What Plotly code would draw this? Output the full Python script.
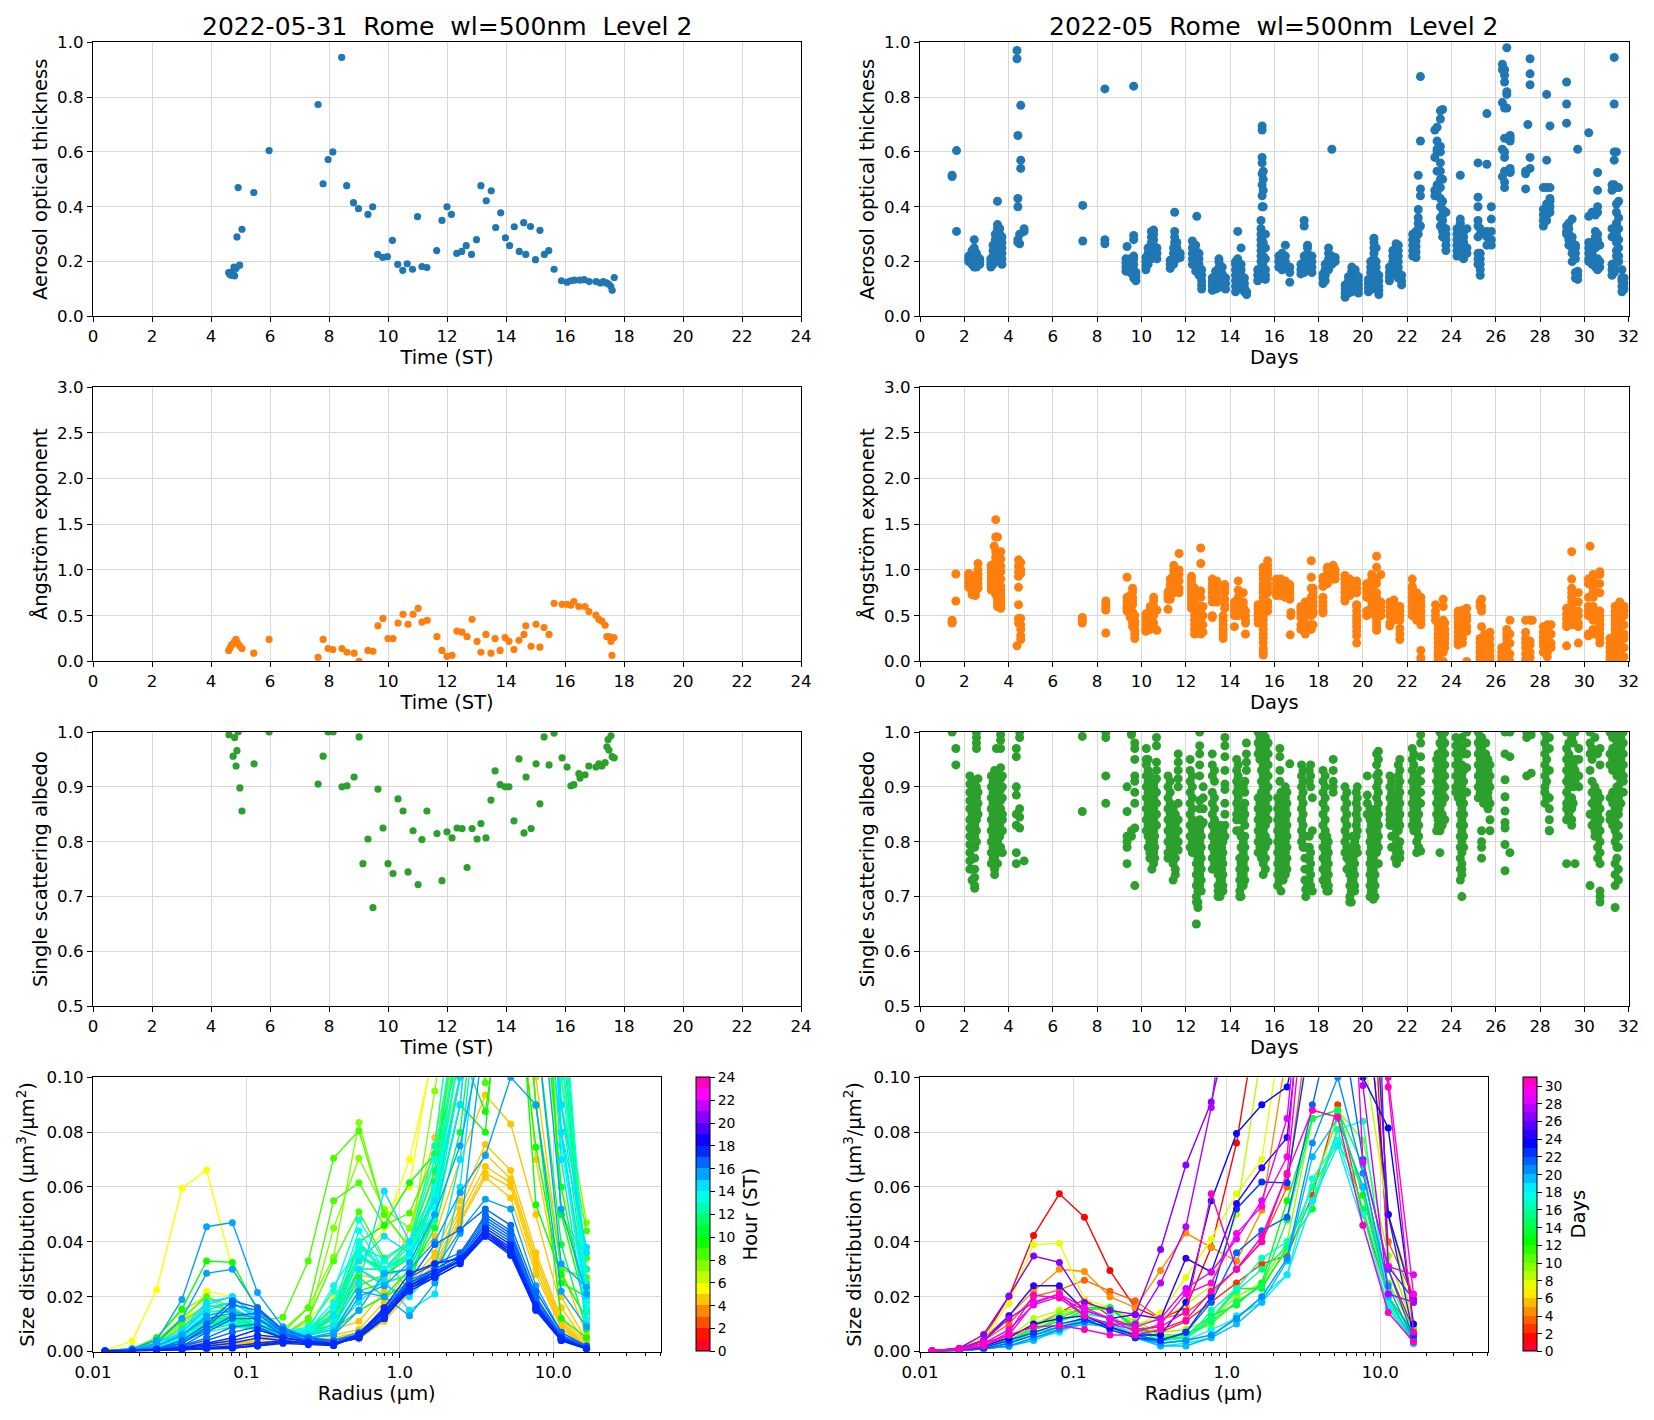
import plotly.graph_objects as go
from plotly.subplots import make_subplots

# one day, 2022-05-31
day_hours = [4.6,4.63,4.68,4.72,4.75,4.78,4.8,4.85,4.88,4.92,4.97,5.05,5.45,5.97,7.63,7.8,7.97,8.13,8.43,8.6,8.83,9.0,9.32,9.48,9.65,9.82,9.98,10.15,10.33,10.5,10.65,10.83,11.0,11.15,11.32,11.65,11.83,12.0,12.15,12.33,12.5,12.65,12.83,13.0,13.15,13.33,13.5,13.65,13.82,13.98,14.12,14.28,14.45,14.6,14.67,14.83,15.0,15.15,15.3,15.45,15.63,15.88,16.07,16.2,16.32,16.5,16.65,16.82,17.05,17.2,17.3,17.4,17.48,17.55,17.6,17.67]
day_aot = [.16,.155,.15,.16,.165,.18,.148,.175,.29,.47,.187,.318,.452,.605,.773,.484,.572,.60,.945,.477,.415,.393,.372,.40,.226,.215,.218,.277,.19,.168,.192,.172,.364,.182,.178,.24,.35,.40,.372,.23,.237,.258,.226,.28,.477,.422,.458,.324,.378,.287,.258,.327,.237,.342,.226,.328,.207,.314,.226,.24,.172,.13,.125,.13,.132,.132,.134,.127,.127,.122,.127,.122,.118,.11,.095,.142]

day_ae_hours = [4.6,4.65,4.7,4.75,4.8,4.85,4.9,4.97,5.05,5.45,5.97,7.63,7.8,7.97,8.13,8.44,8.61,8.85,9.02,9.32,9.49,9.66,9.83,10.0,10.17,10.34,10.51,10.68,10.85,11.02,11.15,11.33,11.66,11.83,12.0,12.17,12.34,12.51,12.68,12.85,13.02,13.15,13.32,13.49,13.63,13.8,13.97,14.1,14.27,14.44,14.61,14.67,14.85,15.02,15.15,15.29,15.46,15.63,15.9,16.07,16.2,16.3,16.47,16.68,16.81,17.05,17.15,17.25,17.36,17.42,17.49,17.56,17.59,17.66]
day_ae = [.12,.15,.18,.19,.22,.24,.2,.17,.14,.09,.24,.044,.24,.14,.13,.14,.10,.09,0.0,.12,.11,.39,.47,.25,.25,.42,.515,.405,.515,.58,.43,.45,.27,.12,.055,.065,.33,.32,.27,.46,.22,.10,.295,.09,.25,.12,.26,.22,.13,.23,.295,.39,.165,.405,.155,.37,.295,.635,.625,.625,.615,.655,.60,.60,.545,.505,.46,.44,.395,.27,.27,.22,.065,.26]

day_ssa_hours = [4.61,4.75,4.8,4.85,4.88,4.92,4.98,5.05,5.46,5.97,7.63,7.8,7.97,8.14,8.44,8.61,8.85,9.02,9.15,9.32,9.49,9.66,9.83,10.0,10.17,10.34,10.51,10.68,10.85,11.02,11.15,11.32,11.66,11.83,12.0,12.17,12.34,12.51,12.68,12.85,13.02,13.15,13.32,13.49,13.63,13.8,13.97,14.1,14.27,14.44,14.61,14.68,14.85,15.02,15.15,15.29,15.46,15.63,15.9,16.07,16.2,16.3,16.47,16.51,16.68,16.81,17.05,17.15,17.25,17.36,17.42,17.46,17.49,17.56,17.6,17.67]
day_ssa = [.995,.956,.99,.938,.966,1.0,.898,.856,.942,1.0,.905,.956,1.0,1.0,.90,.902,.918,.991,.76,.805,.68,.896,.825,.76,.742,.878,.856,.745,.82,.722,.804,.856,.815,.729,.818,.807,.825,.824,.753,.824,.805,.833,.807,.876,.929,.904,.90,.90,.838,.951,.816,.918,.824,.942,.869,.991,.94,.998,.953,.936,.902,.904,.924,.916,.922,.938,.936,.942,.938,.944,.973,.986,.967,.993,.955,.953]

# whole month, one column of readings per position along the day axis
month_aot = [
    (1.45,[.51,.515]),(1.65,[.605,.31]),(2.2,[.2,.21,.22]),(2.35,[.19,.2,.21,.22,.23,.24]),(2.45,[.18,.19,.2,.21,.22,.24,.25,.28]),(2.55,[.18,.19,.2,.21,.23]),(2.7,[.19,.2,.21]),
    (3.2,[.18,.19,.2,.21]),(3.3,[.19,.21,.22,.24,.26]),(3.4,[.2,.22,.24,.26,.28,.3]),(3.5,[.22,.24,.26,.28,.3,.32,.335,.42]),(3.6,[.2,.22,.24,.26,.28,.3,.32]),(3.7,[.19,.21,.23,.25,.27,.29]),
    (4.38,[.94,.97]),(4.42,[.66,.4,.43,.27,.28]),(4.5,[.265,.3]),(4.55,[.77,.57,.54]),(4.7,[.31,.32]),(7.35,[.405,.275]),(8.35,[.83,.28,.265]),
    (9.3,[.165,.18,.195,.21]),(9.35,[.255]),(9.5,[.16,.175,.19,.21]),(9.65,[.14,.15,.17,.19,.21,.22,.28,.295,.84]),(9.75,[.13,.145,.16]),
    (10.2,[.17,.185,.2,.215]),(10.3,[.19,.21,.23,.25]),(10.45,[.21,.23,.25,.27,.29,.31]),(10.55,[.22,.24,.26,.28,.3,.315]),(10.7,[.21,.23,.25]),
    (11.3,[.175,.19,.205]),(11.45,[.19,.21,.23,.25]),(11.5,[.27,.29,.31,.38]),(11.6,[.21,.23,.25,.27]),(11.75,[.215,.23]),
    (12.3,[.19,.21,.23,.25,.275]),(12.45,[.165,.18,.2,.22,.24,.26]),(12.5,[.365]),(12.6,[.15,.17,.19,.21,.23]),(12.72,[.1,.115,.13,.15,.17]),
    (13.2,[.095,.11,.125,.14]),(13.35,[.1,.115,.13,.15,.165]),(13.5,[.105,.12,.14,.16,.18,.2,.21]),(13.65,[.11,.125,.14,.155,.18]),(13.8,[.1,.12,.14]),
    (14.25,[.09,.11,.13,.15,.17,.19,.2]),(14.35,[.1,.12,.14,.16,.18,.2,.21,.31]),(14.5,[.11,.13,.15,.17,.19,.25]),(14.65,[.09,.105,.12,.14]),(14.75,[.08,.09]),
    (15.25,[.13,.15,.17]),(15.4,[.14,.16,.18,.2,.22,.24,.26,.28,.3,.32,.35]),(15.45,[.4,.44,.48,.52,.56,.58,.68,.695]),(15.5,[.14,.16,.18,.2,.22,.25,.27,.3,.4,.46,.5,.53]),(15.6,[.135,.15,.17,.21,.25,.3]),
    (16.2,[.18,.2,.22]),(16.35,[.17,.19,.21,.23]),(16.5,[.18,.2,.22,.26]),(16.7,[.125,.16,.18]),(17.2,[.155,.17,.19]),(17.35,[.16,.18,.2,.22,.33,.35]),(17.5,[.17,.19,.21,.23,.25,.26]),(17.7,[.16,.18,.2,.22]),
    (18.2,[.12,.14,.155]),(18.3,[.13,.15,.17,.19]),(18.45,[.17,.19,.21,.23,.25]),(18.6,[.19,.21,.22,.61]),(18.75,[.2,.215]),
    (19.2,[.07,.085,.1,.115]),(19.35,[.085,.1,.115,.13,.145]),(19.5,[.09,.105,.12,.135,.15,.165,.18]),(19.65,[.1,.115,.13,.145,.16,.17]),(19.8,[.085,.1,.115,.13,.145]),
    (20.25,[.09,.105,.12,.135]),(20.35,[.1,.12,.14,.16,.18,.2]),(20.5,[.11,.13,.15,.17,.19,.21,.23,.25,.27,.285]),(20.6,[.1,.12,.14,.16,.18,.2,.25]),(20.72,[.08,.095,.11,.13,.15]),
    (21.2,[.13,.145,.16,.18]),(21.35,[.16,.18,.2,.22,.24]),(21.5,[.15,.17,.19,.21,.23,.25,.265]),(21.6,[.14,.16,.18,.2,.22,.24,.26]),(21.75,[.115,.13,.15]),
    (22.25,[.22,.24,.26,.28,.3]),(22.4,[.215,.235,.255,.275,.295,.31]),(22.5,[.3,.32,.34,.36,.39,.515]),(22.6,[.44,.465,.875,.64,.33]),
    (23.25,[.68,.58,.46,.44]),(23.35,[.45,.48,.53,.6,.64,.61,.69]),(23.5,[.36,.4,.43,.47,.5,.53,.56,.6,.62,.33,.72,.75]),(23.6,[.29,.31,.33,.35,.37,.39,.42,.5,.755]),(23.75,[.24,.26,.28,.3,.32,.38]),
    (24.25,[.22,.24,.26,.28,.3,.32]),(24.4,[.22,.24,.26,.28,.3,.32,.34,.355,.515]),(24.55,[.21,.23,.25,.27,.29,.31]),(24.7,[.23,.25,.32]),
    (25.2,[.4,.435,.56,.35,.33,.29,.23,.21,.19]),(25.3,[.15,.17,.19,.21,.23,.3,.32]),(25.6,[.74,.555,.31,.26,.29]),(25.8,[.4,.355,.31,.26,.28]),
    (26.3,[.9,.92,.78,.51,.61]),(26.4,[.9,.88,.6,.58,.53,.49,.47,.76,.65,.855]),(26.5,[.98,.82,.81,.76]),(26.65,[.65,.64,.66,.54,.525,.53]),
    (27.35,[.52,.465,.53]),(27.45,[.7]),(27.55,[.94,.885,.845,.58,.54]),(28.15,[.33,.35,.37,.39,.47]),(28.3,[.35,.37,.39,.41,.81,.57,.47]),(28.45,[.38,.4,.42,.43,.47,.695]),
    (29.2,[.855,.775,.705,.33,.3,.31]),(29.3,[.26,.28,.3,.32,.34]),(29.45,[.25,.27,.29,.355,.23,.2]),(29.6,[.21,.23,.25,.26,.16,.14]),(29.7,[.61,.135,.15,.165]),
    (30.2,[.67,.365,.21,.23,.25,.27,.2]),(30.35,[.38,.19,.21,.23,.25,.27]),(30.5,[.18,.2,.25,.27,.29,.31,.37]),(30.6,[.17,.19,.21,.26,.28,.3,.4,.38,.46,.525]),(30.7,[.18,.2,.26]),
    (31.25,[.15,.17,.19,.32,.29,.46,.48]),(31.35,[.945,.775,.6,.57,.47,.48,.16,.18]),(31.45,[.2,.22,.24,.27,.3,.34,.38,.41,.47,.6]),(31.55,[.2,.22,.25,.28,.32,.36,.42,.47]),(31.7,[.09,.11,.13,.17,.14]),(31.8,[.1,.12,.14]),
]

month_ae = [
    (1.45,[.43,.42,.45]),(1.62,[.66,.955]),(2.2,[.81,.84,.87,.9,.93,.96]),(2.35,[.73,.76,.79,.82,.85,.88,.91,.94]),(2.5,[.72,.75,.78,.81,.84,.87,.9,.93]),(2.62,[.8,.85,.9,.95,1.0,1.07]),
    (3.22,[.78,.82,.86,.9,.94,.98,1.02,1.05]),(3.35,[1.26]),(3.42,[.73,.76,.8,.84,.88,.92,.96,1.0,1.05,1.1,1.14,1.2,1.36,1.55]),(3.5,[.6,.64,.68,.72,.76,.8,.84,.88,.92,.96,1.0,1.04,1.08,1.12,1.2,1.36]),(3.65,[.58,.62,.66,.7,.74,.78,.82,.9,.98,1.04,1.12,1.2]),
    (4.38,[.17]),(4.45,[1.11,1.04,.98,.93,.81,.62,.47,.42]),(4.55,[1.08,1.0,.96,.47,.4,.35,.28,.24]),(7.33,[.42,.45,.48]),(8.39,[.31,.56,.59,.63,.66]),
    (9.35,[.55,.58,.6,.65,.7,.92]),(9.5,[.48,.5,.6,.64,.68,.72]),(9.6,[.38,.42,.46,.5,.54,.62,.66,.7,.76,.8]),(9.7,[.25,.3,.34,.4,.44,.5]),
    (10.2,[.33,.36,.4,.44,.48,.52]),(10.4,[.35,.38,.42,.46,.5,.56,.6]),(10.55,[.38,.42,.5,.56,.6,.66,.7]),(10.7,[.34,.56]),
    (11.2,[.57,.68,.72,.76]),(11.3,[.68,.72,.76,.8,.84,.9]),(11.46,[.75,.8,.85,.9,.95,1.0,1.05]),(11.7,[.75,.8,.88,.95,1.0,1.18]),
    (12.26,[.58,.62,.66,.7,.74,.78,.82,.86,.9,.93]),(12.4,[.3,.35,.4,.45,.5,.55,.6,.65,.7,.75,.8]),(12.68,[.3,.34,.38,.45,.5,.55,.6,.7,.77,1.07,1.24]),(12.78,[.32,.4,.5,.6]),
    (13.2,[.48,.5,.65,.7,.75,.8,.85,.9]),(13.4,[.65,.7,.75,.8,.85,.88]),(13.69,[.25,.3,.35,.4,.45,.5]),(13.76,[.58,.62,.68,.75,.8,.84]),
    (14.2,[.38,.5,.55,.6,.65]),(14.37,[.5,.55,.6,.65,.7,.78,.88]),(14.6,[.5,.55,.6,.65,.75]),(14.7,[.3,.42,.45,.5,.55]),
    (15.27,[.42,.46,.5,.54,.58,.62]),(15.5,[.07,.1,.14,.2,.25,.3,.35,.4,.45,.5,.55,.6,.65,.7,.75,.8,.85,.9,.95,1.0,1.03]),(15.7,[.55,.6,.65,.75,.8,.85,.9,.95,1.0,1.05,1.1]),
    (16.1,[.72,.76,.8,.85,.9]),(16.3,[.72,.76,.8,.85,.9]),(16.5,[.7,.74,.78,.82,.88]),(16.7,[.68,.72,.76,.8,.84]),(16.75,[.5,.535]),(16.72,[.29]),
    (17.2,[.35,.4,.48,.52,.56,.6]),(17.4,[.3,.36,.42,.5,.55,.6,.65]),(17.67,[.35,.4,.5,.55,.6,.65,.7,.8,.92,1.1]),(17.75,[.4,.52,.55,.6,.65,.7,.75,.8]),
    (18.2,[.53,.56,.6,.65,.7,.82,.88,.92]),(18.4,[.85,.9,.95,1.0,1.03]),(18.66,[.9,.95,1.0,1.03,1.05]),(18.75,[.9,.95,1.0]),
    (19.19,[.66,.7,.75,.8,.85,.9,.94]),(19.41,[.72,.76,.8,.85,.9]),(19.72,[.2,.28,.33,.38,.42,.46,.5,.55,.6,.62,.75,.8,.85,.88]),
    (20.17,[.5,.55,.7,.75,.8,.85]),(20.4,[.52,.56,.6,.65,.7,.75,.8,.85,.9,.95]),(20.62,[.34,.38,.42,.46,.5,.55,.6,.65,.7,.75,.85,.9,1.03,1.15]),(20.81,[.5,.55,.6,.65,.95]),
    (21.22,[.39,.42,.5,.55,.6,.65]),(21.4,[.45,.5,.55,.6,.65,.67]),(21.67,[.24,.3,.36,.45,.5,.55,.6]),
    (22.23,[.9,.82,.8,.75,.7,.65,.6,.55,.5]),(22.43,[.75,.7,.65,.6,.55,.5,.45]),(22.62,[0.0,.04,.12,.4,.45,.5,.55,.6,.65,.7]),
    (23.28,[.45,.5,.55,.62]),(23.4,[.02,.06,.1,.15,.2,.25,.3,.35,.4]),(23.63,[0.0,.1,.15,.2,.25,.3,.35,.4,.45,.6,.68]),(23.7,[.15,.2,.25,.3,.35,.42]),
    (24.3,[.18,.22,.27,.32,.37,.42,.47,.5,.55]),(24.5,[.2,.25,.3,.37,.42,.5,.56]),(24.69,[0.0,.33,.38,.45,.5,.58]),
    (25.29,[0.0,.05,.1,.15,.2,.25,.6,.65]),(25.36,[.38,.55,.6,.68]),(25.5,[.02,.08,.12,.18,.25,.3]),(25.74,[.02,.06,.12,.18,.25,.32]),
    (26.27,[.02,.06,.1,.15]),(26.5,[0.0,.05,.1,.15,.2,.25,.3,.35]),(26.64,[0.0,.08,.2,.3,.45]),
    (27.35,[.02,.08,.15,.2,.25,.32,.45]),(27.55,[.04,.1,.18,.22,.45]),(27.65,[.45]),
    (28.15,[.1,.17,.22,.27,.32,.38]),(28.33,[.05,.1,.15,.2,.25,.3,.35,.4]),(28.5,[.15,.2,.3,.4]),
    (29.2,[.17,.38,.42,.47,.52,.58]),(29.43,[.4,.45,.5,.55,.6,.65,.7,.75,.8,.9,1.2]),(29.73,[.2,.38,.42,.5,.55,.65,.75]),
    (30.18,[.28,.3,.5,.55,.6,.7,.85,.9]),(30.26,[1.26]),(30.4,[.3,.35,.45,.5,.55,.6,.7,.75,.8,.85,.9,.95]),(30.7,[.2,.25,.3,.35,.4,.45,.5,.55,.75,.85,.95,.98]),
    (31.16,[.02,.06,.1,.15,.2,.25]),(31.39,[.03,.07,.12,.18,.25,.3,.35,.4,.45,.5,.55,.6]),(31.6,[.03,.08,.13,.18,.25,.3,.35,.4,.45,.5,.55,.6,.65]),(31.8,[.05,.15,.25,.3,.4,.5,.55,.6]),
]

month_ssa = [
    (1.45,[1.0]),(1.62,[.97,.94]),(2.25,[.92,.905,.89,.875,.86,.84,.825,.81,.795,.78,.765,.75]),(2.47,[.89,.87,.85,.83,.81,.79,.77,.75,.735,.72,.715]),(2.55,[1.0,.99,.98,.97]),(2.62,[.915,.89,.87,.85]),
    (3.22,[.92,.9,.88,.86,.84,.82,.8,.78,.76]),(3.37,[.93,.91,.89,.87,.85,.83,.81,.79,.77,.75,.74]),(3.45,[.97]),(3.64,[.935,.915,.895,.875,.86,.84,.79,.97,.995,.985]),(3.72,[.84,.82,.85,.88,.9,.92,.78]),
    (4.35,[.97,.955,.9,.885,.85,.83,.78,.76]),(4.5,[1.0,.99,.86,.845,.825]),(4.7,[.765]),(7.33,[.992,.855]),(8.39,[1.0,.99,.92,.87]),
    (9.35,[.9,.855,.81,.8,.79,.76]),(9.55,[1.0,.995,.81,.82]),(9.7,[.98,.97,.95,.92,.91,.89,.87,.825,.72]),
    (10.22,[.97,.95,.94,.92,.9,.88,.86,.84,.82]),(10.38,[.92,.9,.88,.86,.84,.82,.8,.78,.77]),(10.55,[.9,.88,.86,.84,.82,.8,.78,.76]),(10.68,[.99,.975,.945,.93,.915,.89,.87,.85,.83]),
    (11.2,[.92,.9,.88,.86,.84,.82,.8,.78,.77]),(11.43,[.86,.84,.82,.8,.78,.76,.73]),(11.66,[.96,.945,.93,.915,.9,.87,.84,.82,.8,.785]),
    (12.2,[.95,.93,.91,.89,.87,.85,.83,.81,.79]),(12.48,[.82,.8,.78,.76,.74,.72,.70,.69,.65]),(12.63,[1.0,.975,.96,.94,.92,.875,.86,.84,.82,.8,.78,.76,.74,.72]),(12.79,[.9,.88,.86,.835]),
    (13.2,[.96,.94,.92,.89,.87,.85,.83,.81,.79,.77,.75]),(13.46,[.8,.78,.76,.74,.72,.7,.71]),(13.68,[.82,.8,.78,.76,.74,.72,.71]),(13.77,[.99,.975,.955,.93,.905,.895,.87,.85,.83,.81]),
    (14.3,[.95,.93,.91,.89,.87,.85,.84,.82]),(14.44,[.84,.82,.77,.75,.73,.71,.7]),(14.67,[.91,.89,.87,.85,.83,.81,.79,.77,.75,.73]),(14.74,[.98,.96,.945,.93]),
    (15.27,[1.0,.98,.96,.88,.86,.84,.82,.8,.78]),(15.5,[1.0,.98,.96,.94,.92,.9,.88,.86,.84,.82,.8,.78,.76,.74]),(15.72,[.98,.96,.94,.92,.9,.88,.86,.84,.8]),
    (16.15,[.88,.86,.84,.82,.8,.78,.76,.74,.72]),(16.25,[.97,.955,.93,.91]),(16.3,[.89,.87,.85,.83,.81,.79,.77,.75,.73,.71]),(16.5,[.9,.88,.86,.84,.82,.8,.78,.76,.74]),(16.7,[.942]),
    (17.23,[.94,.92,.9,.88,.86,.84,.82,.8]),(17.38,[.81,.79,.77,.75,.73]),(17.42,[.713,.70]),(17.64,[.94,.92,.9,.78,.76,.74,.72]),(17.72,[.88,.82,.71]),
    (18.2,[.93,.91,.89,.87,.85,.83,.81,.79,.77,.75,.73]),(18.44,[.8,.78,.76,.74,.72,.71]),(18.66,[.95,.93,.91,.9,.89]),
    (19.19,[.9,.88,.86,.84,.82,.8,.78]),(19.41,[.78,.76,.74,.72,.7,.69]),(19.56,[.81,.79,.77,.75,.73,.71]),(19.75,[.9,.88,.86,.84,.82,.78]),
    (20.2,[.92,.885,.87,.85]),(20.32,[.86,.84,.82,.8,.78,.76,.74,.72,.7]),(20.47,[.85,.83,.81,.79,.77,.75,.73,.71,.695]),(20.7,[.965,.95,.925,.91,.89,.87,.85,.83,.81,.79,.76]),
    (21.22,[.92,.9,.88,.86,.84,.83,.85]),(21.45,[.87,.85,.83,.81,.79,.77]),(21.67,[.95,.93,.91,.89,.87,.85,.83,.8,.78,.77]),
    (22.23,[.97,.95,.93,.91,.89,.87,.85,.83]),(22.43,[.92,.9,.88,.86,.84,.82,.8,.78]),(22.61,[.995,.98,.955,.93,.91,.89,.87,.783]),
    (23.33,[.95,.93,.91,.89,.87,.85,.82]),(23.48,[1.0,.98,.96,.94,.92,.9,.88,.86,.84,.82,.78]),(23.7,[1.0,.98,.96,.94,.92,.9,.88,.84]),
    (24.2,[.99,.975,.96,.94,.92,.9,.89]),(24.47,[.99,.97,.94,.92,.9,.88,.86,.84,.82,.8,.78,.76,.75,.74,.7]),(24.69,[1.0,.98,.96,.935,.89]),
    (25.21,[1.0,.98,.96,.94,.92,.9,.88]),(25.36,[.99,.97,.95,.82,.8,.79,.77]),(25.55,[.98,.96,.93,.9,.88,.89]),(25.74,[.94,.92,.9,.87,.84,.82]),
    (26.42,[1.0,.96,.913,.882,.856,.835,.825,.795,.747]),(26.64,[1.0,.955,.78]),(27.4,[1.0,.99,.92]),(27.6,[.995,.925]),
    (28.22,[1.0,.98,.96,.94,.92,.9,.89,.87]),(28.42,[.99,.97,.93,.88,.86,.84,.82,.82]),
    (29.2,[1.0,.97,.95,.93,.91,.89,.87,.86,.84,.76]),(29.43,[.99,.95,.93,.91,.88,.86,.84,.83]),(29.58,[1.0,.95,.93,.91,.76]),(29.75,[.97,.95,.92,.9]),
    (30.26,[1.0,.98,.96,.93,.85,.72]),(30.48,[.99,.9,.88,.86,.84,.82,.81]),(30.71,[.97,.94,.88,.86,.84,.82,.8,.78,.76,.71,.7,.69]),
    (31.16,[1.0,.96,.94,.88,.85,.84]),(31.39,[1.0,.97,.95,.93,.89,.86,.84,.82,.8,.76,.74,.72,.68]),(31.54,[.99,.96,.94,.92,.9,.88,.86,.85,.83,.81,.79,.75,.73]),(31.76,[1.0,.98,.96,.94,.92,.91,.89]),
]

# second pass over the same month, the readings between those above
month_ssa_more = [
    (2.35,[.91,.89,.87,.85,.83,.81,.79,.77,.75,.73]),(2.55,[.9,.88,.86,.84,.82,.8]),(3.3,[.91,.89,.87,.85,.83,.81,.79,.77]),(3.5,[.92,.9,.88,.86,.84,.82,.8,.78,.76]),(3.6,[.9,.88,.86,.85,.83,.81]),
    (10.3,[.95,.93,.91,.89,.87,.85,.83,.81,.79]),(10.47,[.91,.89,.87,.85,.83,.81,.79,.77,.75]),(10.6,[.91,.89,.87,.85,.83,.81,.79,.77]),
    (11.3,[.91,.89,.87,.85,.83,.81,.79,.77]),(11.53,[.85,.83,.81,.79,.77,.75,.74]),
    (12.3,[.92,.9,.88,.86,.84,.82,.8,.78]),(12.55,[.83,.81,.79,.77,.75,.73,.71,.69,.68]),(12.7,[.83,.81,.79,.77,.75,.73,.71]),
    (13.3,[.93,.91,.88,.86,.84,.82,.8,.78,.76]),(13.55,[.83,.81,.79,.77,.75,.73,.71,.7]),(13.62,[.81,.79,.77,.75,.73,.72]),
    (14.37,[.94,.92,.9,.88,.86]),(14.5,[.81,.79,.76,.74,.72,.7]),(14.6,[.9,.86,.84,.8,.78,.76,.74,.72]),
    (15.35,[.99,.97,.95,.87,.85,.83,.81,.79]),(15.42,[.97,.95,.93,.91,.89,.87,.85,.83,.81,.79,.77]),(15.6,[.99,.97,.95,.93,.91,.89,.87,.85,.83,.81,.79,.77,.75]),
    (16.22,[.87,.85,.83,.81,.79,.77,.75,.73]),(16.4,[.89,.87,.85,.83,.81,.79,.77,.75,.73]),(16.57,[.89,.87,.85,.83,.81,.79,.77,.75]),
    (17.3,[.93,.91,.89,.87,.85,.83,.81,.79]),(17.5,[.79,.77,.75,.73,.72]),(17.58,[.93,.91,.81,.79,.77,.75,.73]),
    (18.3,[.92,.9,.88,.86,.84,.82,.8,.78,.76,.74,.72]),(18.37,[.81,.79,.77,.75,.73,.71]),
    (19.28,[.89,.87,.85,.83,.81,.79,.77,.75]),(19.48,[.79,.77,.75,.73,.71,.69]),(19.63,[.8,.78,.76,.74,.72,.71]),(19.7,[.89,.87,.85,.83,.81,.79]),
    (20.38,[.85,.83,.81,.79,.77,.75,.73,.71,.7]),(20.55,[.84,.82,.8,.78,.76,.74,.72,.7]),(20.62,[.96,.94,.92,.9,.88,.86,.84,.82,.8,.78]),
    (21.3,[.91,.89,.87,.85,.83,.81,.79]),(21.52,[.88,.86,.84,.82,.8,.78,.76]),(21.6,[.94,.92,.9,.88,.86,.84,.82,.79,.77]),
    (22.3,[.96,.94,.92,.9,.88,.86,.84,.82]),(22.52,[.91,.89,.87,.85,.83,.81,.79]),
    (23.4,[.96,.94,.92,.9,.88,.86,.84,.83]),(23.58,[.99,.97,.95,.93,.91,.89,.87,.85,.83]),
    (24.3,[.98,.97,.95,.93,.91,.88]),(24.4,[.89,.87,.85,.83,.81,.79,.77,.75,.73]),(24.55,[.96,.93,.91,.89,.87,.85,.83,.81,.79]),
    (25.3,[.99,.97,.95,.93,.91,.89]),(25.45,[.96,.94,.92,.9,.87]),(25.65,[.95,.93,.91,.89,.88,.86]),
    (28.3,[.99,.97,.95,.93,.91,.88]),(29.3,[.98,.96,.94,.92,.9,.88,.86,.85]),(29.5,[.98,.94,.92,.9,.87]),
    (30.35,[.97,.95,.91,.89,.87,.85,.83]),(30.6,[.96,.89,.87,.85,.83,.81,.79,.77]),(31.28,[.99,.97,.95,.93,.89,.87,.85,.83]),(31.47,[.98,.96,.94,.92,.9,.88,.87,.85,.83,.81,.79,.77]),(31.65,[.99,.97,.95,.93,.91,.89,.87]),
]

radius = [.012,.018,.026,.038,.055,.081,.118,.173,.253,.37,.541,.791,1.156,1.69,2.47,3.61,5.28,7.71,11.27,16.47]

# (hour of the retrieval, size distribution)
day_sizes = [
    (4.6,[.0002,.0005,.0008,.001,.0012,.0018,.0022,.0028,.003,.0035,.0045,.011,.021,.03,.047,.0635,.056,.028,.0085,.0015]),
    (4.65,[.0002,.0004,.0007,.001,.0014,.0019,.0025,.003,.0032,.0038,.005,.012,.022,.031,.048,.065,.06,.03,.009,.002]),
    (4.7,[.0002,.0005,.0009,.0012,.0015,.002,.0028,.0032,.0035,.004,.0055,.013,.023,.032,.05,.0675,.0615,.032,.01,.002]),
    (4.75,[.0002,.0005,.0009,.0013,.0016,.0022,.003,.0035,.004,.0045,.006,.014,.024,.034,.052,.072,.063,.034,.011,.002]),
    (4.8,[.0002,.0006,.001,.0014,.0018,.0025,.0032,.0038,.0045,.005,.007,.015,.025,.036,.055,.0755,.066,.036,.012,.003]),
    (4.85,[.0003,.0006,.0012,.0016,.002,.003,.0035,.004,.005,.006,.008,.018,.03,.042,.07,.0935,.083,.05,.016,.003]),
    (4.92,[.0003,.0007,.0014,.002,.0025,.003,.004,.005,.006,.008,.011,.022,.045,.078,.12,.16,.17,.07,.02,.004]),
    (4.97,[.0003,.0008,.0015,.0022,.003,.0035,.0045,.006,.008,.012,.028,.026,.04,.065,.1,.15,.2,.1,.03,.006]),
    (5.45,[.0005,.0038,.0225,.0595,.0662,.03,.016,.006,.012,.02,.03,.045,.07,.11,.16,.22,.25,.2,.06,.03]),
    (5.97,[.0003,.001,.003,.01,.022,.02,.012,.006,.007,.015,.03,.051,.06,.11,.17,.2,.22,.17,.05,.02]),
    (7.63,[.0003,.001,.005,.015,.02,.014,.01,.006,.011,.045,.0705,.052,.045,.07,.12,.2,.25,.2,.05,.03]),
    (7.8,[.0003,.001,.004,.01,.017,.015,.01,.008,.016,.0345,.0835,.05,.038,.095,.16,.22,.3,.25,.1,.047]),
    (8.43,[.0003,.001,.004,.012,.02,.016,.011,.0125,.033,.0705,.0805,.05,.038,.06,.12,.2,.3,.28,.09,.044]),
    (8.6,[.0003,.001,.004,.011,.017,.015,.01,.007,.016,.055,.0615,.046,.0505,.072,.13,.25,.3,.2,.05,.034]),
    (8.83,[.0002,.0008,.003,.009,.015,.014,.009,.006,.012,.033,.051,.034,.022,.06,.14,.098,.2,.0895,.03,.027]),
    (9.0,[.0002,.0008,.002,.006,.012,.012,.008,.005,.008,.012,.04,.046,.0615,.072,.11,.0875,.15,.0745,.025,.02]),
    (9.48,[.0002,.0008,.005,.0155,.033,.0325,.015,.007,.006,.008,.015,.02,.025,.05,.1,.18,.2,.09,.012,.005]),
    (9.82,[.0002,.0006,.002,.006,.011,.012,.009,.006,.006,.01,.027,.02,.03,.05,.09,.08,.18,.0535,.028,.012]),
    (10.15,[.0002,.0005,.002,.005,.01,.011,.008,.006,.006,.008,.022,.025,.028,.045,.08,.16,.2,.12,.039,.008]),
    (10.33,[.0002,.0006,.002,.006,.012,.013,.009,.006,.007,.01,.024,.028,.034,.058,.12,.24,.3,.16,.06,.014]),
    (10.65,[.0002,.0006,.002,.006,.012,.014,.01,.006,.007,.012,.03,.03,.035,.055,.1,.2,.3,.2,.05,.015]),
    (11.0,[.0002,.0006,.002,.006,.011,.013,.01,.007,.008,.016,.038,.034,.04,.066,.13,.26,.34,.24,.09,.022]),
    (11.15,[.0002,.0005,.002,.005,.009,.011,.009,.006,.007,.014,.035,.03,.04,.06,.11,.22,.32,.22,.08,.02]),
    (11.65,[.0002,.0005,.002,.005,.008,.01,.008,.006,.006,.012,.04,.028,.03,.05,.1,.2,.3,.25,.11,.025]),
    (11.83,[.0002,.0006,.002,.006,.01,.012,.009,.006,.007,.016,.034,.03,.036,.062,.12,.23,.32,.27,.12,.018]),
    (12.15,[.0002,.0005,.002,.004,.008,.01,.008,.006,.006,.01,.03,.025,.028,.048,.09,.18,.28,.22,.12,.03]),
    (12.5,[.0002,.0005,.002,.005,.009,.012,.009,.007,.007,.013,.03,.03,.04,.075,.15,.26,.34,.3,.14,.014]),
    (12.65,[.0002,.0005,.0015,.004,.007,.009,.008,.006,.006,.014,.036,.028,.035,.055,.11,.2,.3,.24,.13,.02]),
    (13.0,[.0002,.0005,.0015,.005,.01,.013,.01,.007,.007,.016,.044,.03,.036,.058,.1,.19,.29,.26,.11,.016]),
    (13.15,[.0002,.0005,.0015,.004,.008,.011,.009,.007,.008,.018,.04,.03,.038,.06,.12,.22,.32,.26,.14,.022]),
    (13.5,[.0002,.0006,.002,.005,.012,.014,.01,.007,.009,.022,.048,.033,.04,.07,.13,.24,.34,.28,.08,.012]),
    (13.65,[.0002,.0006,.002,.006,.013,.016,.011,.008,.008,.024,.038,.03,.034,.052,.1,.21,.3,.27,.1,.024]),
    (13.82,[.0002,.0006,.002,.006,.014,.016,.011,.008,.007,.012,.035,.028,.03,.057,.11,.2,.3,.25,.075,.018]),
    (14.12,[.0002,.0006,.003,.007,.017,.02,.013,.008,.006,.013,.033,.042,.036,.05,.09,.19,.28,.22,.08,.02]),
    (14.28,[.0002,.0006,.003,.008,.018,.02,.012,.008,.006,.009,.025,.0585,.04,.055,.1,.18,.26,.2,.07,.01]),
    (14.45,[.0002,.0006,.002,.007,.015,.018,.012,.008,.006,.008,.03,.024,.02,.03,.07,.16,.24,.18,.09,.036]),
    (14.6,[.0002,.0006,.002,.007,.016,.018,.012,.008,.006,.008,.018,.026,.015,.021,.06,.15,.22,.16,.08,.038]),
    (15.0,[.0002,.0005,.002,.006,.013,.015,.012,.007,.005,.007,.022,.02,.013,.025,.043,.12,.2,.15,.052,.021]),
    (15.3,[.0002,.0005,.003,.012,.0285,.03,.016,.007,.005,.006,.02,.024,.0325,.05,.075,.12,.18,.12,.032,.0235]),
    (15.63,[.0003,.001,.004,.019,.0455,.047,.0215,.009,.005,.006,.015,.0285,.03,.04,.058,.0715,.1,.09,.022,.009]),
    (15.88,[.0002,.0005,.002,.006,.012,.014,.012,.007,.004,.004,.007,.015,.025,.03,.044,.0555,.052,.024,.007,.002]),
    (16.07,[.0002,.0005,.001,.004,.01,.0185,.016,.008,.005,.004,.006,.016,.026,.039,.0445,.052,.046,.022,.007,.002]),
    (16.2,[.0002,.0005,.001,.003,.009,.017,.015,.008,.005,.003,.006,.015,.025,.03,.035,.05,.044,.02,.006,.002]),
    (16.32,[.0002,.0004,.001,.003,.008,.013,.014,.007,.004,.003,.006,.014,.027,.032,.036,.049,.043,.019,.006,.0015]),
    (16.5,[.0002,.0004,.0009,.002,.007,.012,.012,.006,.004,.003,.006,.014,.026,.03,.035,.048,.042,.018,.0055,.0015]),
    (16.65,[.0002,.0004,.0008,.002,.005,.009,.01,.006,.004,.003,.005,.013,.025,.029,.034,.047,.041,.018,.005,.0012]),
    (16.82,[.0002,.0003,.0008,.002,.004,.007,.009,.005,.004,.003,.005,.013,.024,.029,.034,.046,.04,.017,.005,.0012]),
    (17.05,[.0001,.0003,.0007,.0015,.003,.005,.008,.005,.0035,.003,.005,.012,.024,.028,.033,.045,.039,.017,.005,.0012]),
    (17.2,[.0001,.0003,.0006,.0012,.0025,.004,.006,.005,.0035,.003,.005,.012,.023,.028,.033,.044,.038,.016,.0045,.001]),
    (17.3,[.0001,.0002,.0005,.001,.002,.003,.005,.004,.003,.0028,.005,.012,.023,.027,.032,.043,.037,.016,.0045,.001]),
    (17.4,[.0001,.0002,.0004,.0008,.0015,.002,.003,.004,.003,.0025,.0055,.013,.022,.027,.032,.042,.036,.016,.0045,.001]),
    (17.48,[.0001,.0002,.0004,.0007,.0012,.0015,.002,.0035,.003,.0022,.006,.014,.023,.028,.033,.043,.036,.015,.004,.001]),
    (17.55,[.0001,.0002,.0004,.0007,.001,.0012,.002,.003,.0025,.0022,.006,.015,.024,.029,.033,.042,.035,.015,.004,.001]),
    (17.67,[.0001,.0002,.0003,.0006,.001,.0012,.0025,.0035,.003,.0025,.0065,.016,.0285,.032,.034,.044,.037,.016,.0045,.0012]),
]

# (day of month, size distribution)
month_sizes = [
    (1,[.0003,.001,.005,.02,.0423,.0575,.049,.0295,.016,.012,.016,.038,.076,.14,.2,.25,.3,.2,.03,.008]),
    (2,[.0002,.0006,.002,.004,.009,.014,.019,.013,.008,.007,.011,.018,.025,.032,.035,.057,.09,.05,.02,.007]),
    (3,[.0002,.0008,.004,.01,.02,.0225,.026,.022,.0185,.012,.014,.021,.03,.04,.06,.13,.18,.15,.04,.02]),
    (4,[.0003,.001,.005,.013,.022,.03,.0292,.02,.016,.0295,.0432,.038,.033,.0515,.11,.2,.25,.2,.05,.02]),
    (7,[.0003,.001,.005,.0175,.039,.0395,.019,.016,.009,.014,.027,.041,.0575,.07,.13,.25,.3,.2,.05,.01]),
    (8,[.0002,.0006,.002,.005,.012,.015,.014,.012,.01,.012,.017,.024,.05,.11,.16,.2,.22,.11,.05,.01]),
    (9,[.0002,.0006,.002,.005,.01,.014,.017,.016,.011,.007,.008,.012,.02,.025,.04,.085,.088,.077,.035,.009]),
    (10,[.0002,.0005,.002,.004,.009,.013,.016,.015,.01,.006,.006,.01,.018,.024,.037,.06,.085,.06,.025,.008]),
    (12,[.0002,.0005,.0015,.004,.008,.012,.016,.016,.009,.005,.006,.013,.017,.025,.055,.085,.088,.057,.02,.007]),
    (13,[.0002,.0005,.0015,.004,.008,.011,.015,.016,.008,.005,.005,.012,.023,.023,.038,.052,.081,.052,.02,.006]),
    (14,[.0002,.0005,.0015,.004,.008,.011,.014,.012,.008,.004,.005,.011,.018,.024,.048,.085,.088,.068,.018,.005]),
    (15,[.0002,.0004,.0012,.003,.007,.009,.012,.01,.006,.004,.005,.012,.022,.03,.038,.06,.076,.06,.018,.005]),
    (16,[.0002,.0004,.0012,.003,.006,.008,.01,.01,.006,.003,.004,.015,.023,.034,.04,.055,.081,.084,.017,.004]),
    (17,[.0002,.0004,.001,.002,.005,.008,.013,.013,.007,.003,.004,.008,.012,.02,.028,.063,.077,.05,.016,.003]),
    (18,[.0001,.0003,.001,.002,.005,.007,.011,.011,.006,.002,.003,.005,.013,.018,.028,.055,.075,.046,.016,.003]),
    (19,[.0001,.0003,.001,.002,.004,.008,.01,.009,.005,.002,.002,.005,.01,.018,.033,.071,.085,.06,.02,.003]),
    (20,[.0001,.0003,.001,.002,.005,.008,.011,.009,.005,.003,.004,.006,.012,.02,.034,.076,.1,.065,.024,.004]),
    (21,[.0002,.0004,.001,.003,.006,.009,.011,.009,.006,.004,.007,.018,.036,.044,.049,.09,.13,.07,.03,.005]),
    (22,[.0002,.0005,.0015,.004,.007,.01,.012,.008,.005,.004,.007,.02,.052,.0618,.0615,.12,.2,.2,.05,.006]),
    (23,[.0002,.0005,.002,.005,.01,.012,.013,.009,.006,.006,.018,.055,.0795,.09,.0965,.14,.22,.1,.0815,.01]),
    (24,[.0003,.001,.004,.013,.024,.024,.015,.012,.0135,.012,.034,.029,.054,.067,.078,.15,.25,.14,.05,.018]),
    (26,[.0003,.0012,.0062,.0202,.0348,.0325,.018,.015,.0135,.0372,.068,.091,.13,.2,.3,.4,.4,.3,.031,.019]),
    (27,[.0003,.001,.004,.012,.018,.021,.013,.01,.01,.025,.0455,.089,.16,.25,.35,.4,.4,.097,.021,.018]),
    (28,[.0002,.0006,.003,.008,.017,.02,.015,.012,.009,.012,.023,.029,.041,.055,.085,.18,.25,.069,.031,.028]),
    (29,[.0002,.0006,.002,.006,.0175,.021,.016,.012,.007,.01,.021,.025,.043,.053,.071,.2,.3,.2,.1,.021]),
    (30,[.0002,.0006,.002,.007,.0205,.0195,.013,.01,.008,.009,.0145,.0575,.03,.042,.0645,.15,.25,.15,.0965,.007]),
    (31,[.0003,.001,.003,.006,.009,.0095,.008,.006,.006,.008,.0115,.022,.03,.04,.065,.088,.0855,.046,.0142,.0035]),
]

day_ticks = [0,2,4,6,8,10,12,14,16,18,20,22,24]
month_ticks = [0,2,4,6,8,10,12,14,16,18,20,22,24,26,28,30,32]
radius_ticks = [.01,.1,1,10]
radius_labels = ['0.01','0.1','1.0','10.0']
radius_minor = [.02,.03,.04,.05,.06,.07,.08,.09,.2,.3,.4,.5,.6,.7,.8,.9,2,3,4,5,6,7,8,9,20,30,40,50]

W, H = 1638, 1404   # page keeps an 8 px body margin
OFF = 8
FONT = 'DejaVu Sans'
TICK = 16.67
LABEL = 19.44
DAY_DOT = 7.2
MONTH_DOT = 9
SIZE_DOT = 7

# gist_rainbow anchors
rainbow = [(0,255,0,41),(.03,255,0,0),(.215,255,255,0),(.4,0,255,0),(.586,0,255,255),(.77,0,0,255),(.954,255,0,255),(1,255,0,191)]


def cmap(t):
    for (a, r1, g1, b1), (b, r2, g2, b2) in zip(rainbow, rainbow[1:]):
        if t <= b:
            f = (t - a) / (b - a)
            return 'rgb({},{},{})'.format(round(r1 + f * (r2 - r1)), round(g1 + f * (g2 - g1)), round(b1 + f * (b2 - b1)))
    return 'rgb(255,0,191)'


def step_color(v, n):
    return cmap(min(int(v), n - 1) / (n - 1))


def step_scale(n):
    out = []
    for i in range(n):
        c = cmap(i / (n - 1))
        out += [[i / n, c], [(i + 1) / n, c]]
    return out


def fx(p):
    return (p - OFF) / W


def fy(p):
    return 1 - (p - OFF) / H


def columns(cols):
    xs, ys = [], []
    for x, vals in cols:
        for v in vals:
            xs.append(x)
            ys.append(v)
    return xs, ys


fig = make_subplots(rows=4, cols=2)

rows_px = [(42.3, 316.4), (387, 661.4), (732, 1006.3), (1077.3, 1351.5)]
cols_px = [(93, 801), (920, 1628.6)]
size_cols_px = [(93, 660.5), (920, 1487.5)]

# scatter rows
sets = [
    (1, 1, day_hours, day_aot, '#1f77b4'),
    (2, 1, day_ae_hours, day_ae, '#ff7f0e'),
    (3, 1, day_ssa_hours, day_ssa, '#2ca02c'),
]
for r, c, x, y, col in sets:
    fig.add_trace(go.Scatter(x=x, y=y, mode='markers', marker=dict(color=col, size=DAY_DOT), showlegend=False), row=r, col=c)

for r, cols, col in [(1, month_aot, '#1f77b4'), (2, month_ae, '#ff7f0e'), (3, month_ssa + month_ssa_more, '#2ca02c')]:
    x, y = columns(cols)
    fig.add_trace(go.Scatter(x=x, y=y, mode='markers', marker=dict(color=col, size=MONTH_DOT), showlegend=False), row=r, col=2)

# size distributions
for c, curves, n, cmax, bar_x in [(1, day_sizes, 24, 24, 696), (2, month_sizes, 31, 31, 1523)]:
    for i, (t, vals) in enumerate(curves):
        col = step_color(t, n)
        marker = dict(color=col, size=SIZE_DOT)
        if i == 0:
            marker = dict(color=[t] * len(vals), cmin=0, cmax=cmax, colorscale=step_scale(n), size=SIZE_DOT, showscale=True,
                          colorbar=dict(x=fx(bar_x), xanchor='left', xpad=0, ypad=0, y=fy((1077.3 + 1351.5) / 2), yanchor='middle',
                                        thickness=13.7, thicknessmode='pixels', len=274.2, lenmode='pixels',
                                        outlinecolor='black', outlinewidth=1, tick0=0, dtick=2, ticks='outside', ticklen=5,
                                        tickcolor='black', tickfont=dict(family=FONT, size=13.9, color='black')))
        fig.add_trace(go.Scatter(x=radius, y=vals, mode='lines+markers', line=dict(color=col, width=1.4), marker=marker, showlegend=False), row=4, col=c)

axis_style = dict(showline=True, linecolor='black', linewidth=1.1, mirror=True, ticks='outside', ticklen=5, tickcolor='black', automargin=False,
                  showgrid=True, gridcolor='#d9d9d9', gridwidth=1.1, zeroline=False, tickfont=dict(family=FONT, size=TICK, color='black'))

x_titles = {1: 'Time (ST)', 2: 'Days'}
y_rows = [
    ('Aerosol optical thickness', [0, 1], .2, '.1f'),
    ('Ångström exponent', [0, 3], .5, '.1f'),
    ('Single scattering albedo', [.5, 1], .1, '.1f'),
]
for r in range(1, 4):
    name, yr, dt, fmt = y_rows[r - 1]
    for c in (1, 2):
        ticks = day_ticks if c == 1 else month_ticks
        fig.update_xaxes(row=r, col=c, domain=[fx(cols_px[c - 1][0]), fx(cols_px[c - 1][1])], range=[0, ticks[-1]], tickvals=ticks,
                         title=dict(text=x_titles[c], font=dict(family=FONT, size=LABEL, color='black'), standoff=3), **axis_style)
        fig.update_yaxes(row=r, col=c, domain=[fy(rows_px[r - 1][1]), fy(rows_px[r - 1][0])], range=yr, dtick=dt, tick0=yr[0], tickformat=fmt,
                         title=dict(text=name, font=dict(family=FONT, size=LABEL, color='black'), standoff=4), **axis_style)

for c in (1, 2):
    fig.update_xaxes(row=4, col=c, type='log', domain=[fx(size_cols_px[c - 1][0]), fx(size_cols_px[c - 1][1])], range=[-2, 1.699],
                     tickvals=radius_ticks, ticktext=radius_labels,
                     minor=dict(tickvals=radius_minor, ticks='outside', ticklen=3, tickcolor='black', showgrid=False),
                     title=dict(text='Radius (µm)', font=dict(family=FONT, size=LABEL, color='black'), standoff=5), **axis_style)
    fig.update_yaxes(row=4, col=c, domain=[fy(rows_px[3][1]), fy(rows_px[3][0])], range=[0, .1], dtick=.02, tickformat='.2f',
                     title=dict(text='Size distribution (µm<sup>3</sup>/µm<sup>2</sup>)', font=dict(family=FONT, size=LABEL, color='black'), standoff=6), **axis_style)

titles = [('2022-05-31\u00a0\u00a0Rome\u00a0\u00a0wl=500nm\u00a0\u00a0Level 2', (93 + 801) / 2), ('2022-05\u00a0\u00a0Rome\u00a0\u00a0wl=500nm\u00a0\u00a0Level 2', (920 + 1628.6) / 2)]
for text, cx in titles:
    fig.add_annotation(x=fx(cx), y=fy(43), xref='paper', yref='paper', xanchor='center', yanchor='bottom', showarrow=False,
                       text=text, font=dict(family=FONT, size=25, color='black'))
for text, px_x in [('Hour (ST)', 750), ('Days', 1578)]:
    fig.add_annotation(x=fx(px_x), y=fy((1077.3 + 1351.5) / 2), xref='paper', yref='paper', xanchor='center', yanchor='middle', showarrow=False,
                       textangle=-90, text=text, font=dict(family=FONT, size=LABEL, color='black'))

fig.update_layout(width=W, height=H, autosize=False, margin=dict(l=0, r=0, t=0, b=0, autoexpand=False), plot_bgcolor='white', paper_bgcolor='white',
                  font=dict(family=FONT, color='black'), showlegend=False)

fig.write_html("out.html")
